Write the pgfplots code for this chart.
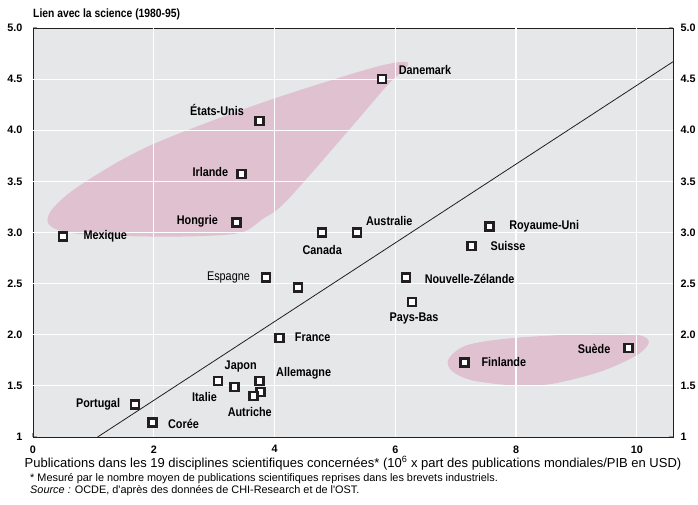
\documentclass[border=0pt]{standalone}
\usepackage{fontspec}
\setmainfont{Liberation Sans}[FakeStretch=0.86]
\newfontfamily\plainfont{Liberation Sans}
\usepackage{pgfplots}
\pgfplotsset{compat=1.18}
\definecolor{bg}{RGB}{230,231,232}
\definecolor{pinkb}{RGB}{223,193,208}
\definecolor{dk}{RGB}{35,31,32}
\newcommand\lab{\fontsize{12.6}{14}\selectfont\bfseries}
\begin{document}
\begin{tikzpicture}
\begin{axis}[
  scale only axis, width=640pt, height=409pt,
  xmin=0, xmax=10.6, ymin=1, ymax=5,
  axis background/.style={fill=bg},
  axis line style={dk, line width=0.9pt},
  xtick={0,2,4,6,8,10}, ytick={1,1.5,2,2.5,3,3.5,4,4.5,5},
  yticklabels={1,1.5,2.0,2.5,3.0,3.5,4.0,4.5,5.0},
  /pgf/number format/assume math mode=true,
  ticklabel style={font=\plainfont\fontsize{10.8}{12}\selectfont\bfseries},
  xticklabel style={yshift=-5pt},
  yticklabel style={xshift=-7pt},
  tick style={gray!80, line width=1pt}, major tick length=4pt, tick align=inside,
  xtick pos=bottom, ytick pos=both,
  unbounded coords=jump,
]
\addplot[fill=pinkb, draw=none, smooth, tension=0.55, forget plot] coordinates {
(2.0,2.96) (1.2,2.97) (0.7,2.99) (0.35,3.04) (0.24,3.12) (0.35,3.25) (0.8,3.47) (1.9,3.84) (3.7,4.25) (5.5,4.59) (6.15,4.67) (6.17,4.6) (5.9,4.46) (5.2,3.98) (4.2,3.31) (3.8,3.13) (3.45,3.0) (2.8,2.965) (2.0,2.96)};
\addplot[fill=pinkb, draw=none, smooth, tension=0.55, forget plot] coordinates {
(8.0,1.5) (7.3,1.55) (6.95,1.64) (6.88,1.76) (7.2,1.9) (8.0,1.97) (9.3,2.01) (10.0,2.0) (10.2,1.93) (10.0,1.8) (9.4,1.64) (8.6,1.52) (8.0,1.5)};
% white grid over the shaded areas
\addplot[white, line width=1.2pt, forget plot] coordinates {
(2,1) (2,5) (nan,nan) (4,1) (4,5) (nan,nan) (6,1) (6,5) (nan,nan) (8,1) (8,5) (nan,nan) (10,1) (10,5) (nan,nan)
(0,1.5) (10.6,1.5) (nan,nan) (0,2) (10.6,2) (nan,nan) (0,2.5) (10.6,2.5) (nan,nan) (0,3) (10.6,3) (nan,nan)
(0,3.5) (10.6,3.5) (nan,nan) (0,4) (10.6,4) (nan,nan) (0,4.5) (10.6,4.5)};
\addplot[dk, line width=0.8pt] coordinates {(1.07,1) (10.6,4.67)};
\addplot[only marks, mark=square*, mark size=4pt, mark options={fill=white, draw=dk, line width=2.5pt}] coordinates {
(0.50,2.96) (3.37,3.10) (3.86,2.56) (4.39,2.46) (4.79,3.00) (5.37,3.00)
(4.08,1.97) (3.06,1.55) (3.34,1.49) (3.75,1.55) (3.77,1.44) (3.65,1.40)
(1.69,1.32) (1.98,1.14) (3.45,3.57) (3.75,4.09) (5.78,4.50)
(7.56,3.06) (7.26,2.87) (6.18,2.56) (6.28,2.32) (7.15,1.73) (9.86,1.87)};
\node[anchor=west, font=\lab] at (axis cs:6.0,4.59) {Danemark};
\node[anchor=east, font=\lab] at (axis cs:3.55,4.20) {États-Unis};
\node[anchor=east, font=\lab] at (axis cs:3.29,3.59) {Irlande};
\node[anchor=east, font=\lab] at (axis cs:3.12,3.11) {Hongrie};
\node[anchor=west, font=\lab] at (axis cs:0.78,2.96) {Mexique};
\node[font=\lab] at (axis cs:4.79,2.83) {Canada};
\node[font=\lab] at (axis cs:5.90,3.11) {Australie};
\node[anchor=west, font=\lab] at (axis cs:7.83,3.06) {Royaume-Uni};
\node[anchor=west, font=\lab] at (axis cs:7.52,2.87) {Suisse};
\node[anchor=west, font=\lab] at (axis cs:6.43,2.55) {Nouvelle-Zélande};
\node[font=\lab] at (axis cs:6.31,2.16) {Pays-Bas};
\node[anchor=east, font=\fontsize{12.6}{14}\selectfont] at (axis cs:3.65,2.56) {Espagne};
\node[anchor=west, font=\lab] at (axis cs:4.28,1.98) {France};
\node[font=\lab] at (axis cs:3.44,1.69) {Japon};
\node[anchor=west, font=\lab] at (axis cs:3.97,1.62) {Allemagne};
\node[font=\lab] at (axis cs:2.84,1.39) {Italie};
\node[font=\lab] at (axis cs:3.59,1.245) {Autriche};
\node[anchor=east, font=\lab] at (axis cs:1.50,1.32) {Portugal};
\node[anchor=west, font=\lab] at (axis cs:2.18,1.13) {Corée};
\node[anchor=west, font=\lab] at (axis cs:7.37,1.73) {Finlande};
\node[anchor=east, font=\lab] at (axis cs:9.62,1.86) {Suède};
\end{axis}
\begin{axis}[
  scale only axis, width=640pt, height=409pt,
  xmin=0, xmax=10.6, ymin=1, ymax=5,
  axis line style={draw=none}, tick style={draw=none},
  xtick=\empty, ytick={1,1.5,2,2.5,3,3.5,4,4.5,5},
  yticklabels={1,1.5,2.0,2.5,3.0,3.5,4.0,4.5,5.0},
  /pgf/number format/assume math mode=true,
  ticklabel style={font=\plainfont\fontsize{10.8}{12}\selectfont\bfseries},
  ytick pos=right, yticklabel pos=right,
  yticklabel style={xshift=4pt},
]
\addplot[draw=none] coordinates {(0,1) (10,5)};
\end{axis}
\node[anchor=west, font=\fontsize{12}{13}\selectfont\bfseries, inner sep=0pt] at (0pt,423pt) {Lien avec la science (1980-95)};
\node[font=\plainfont\fontsize{13}{15}\selectfont, inner sep=0pt] at (320pt,-26pt) {Publications dans les 19 disciplines scientifiques concernées* (10\textsuperscript{6} x part des publications mondiales/PIB en USD)};
\node[anchor=west, font=\plainfont\fontsize{10.9}{12}\selectfont, inner sep=0pt] at (-3pt,-42pt) {* Mesuré par le nombre moyen de publications scientifiques reprises dans les brevets industriels.};
\node[anchor=west, font=\plainfont\fontsize{10.9}{12}\selectfont, inner sep=0pt] at (-3pt,-54pt) {\textit{Source :} OCDE, d'après des données de CHI-Research et de l'OST.};
\pgfresetboundingbox
\path[use as bounding box] (-33pt,-68pt) rectangle (665pt,437pt);
\end{tikzpicture}
\end{document}
